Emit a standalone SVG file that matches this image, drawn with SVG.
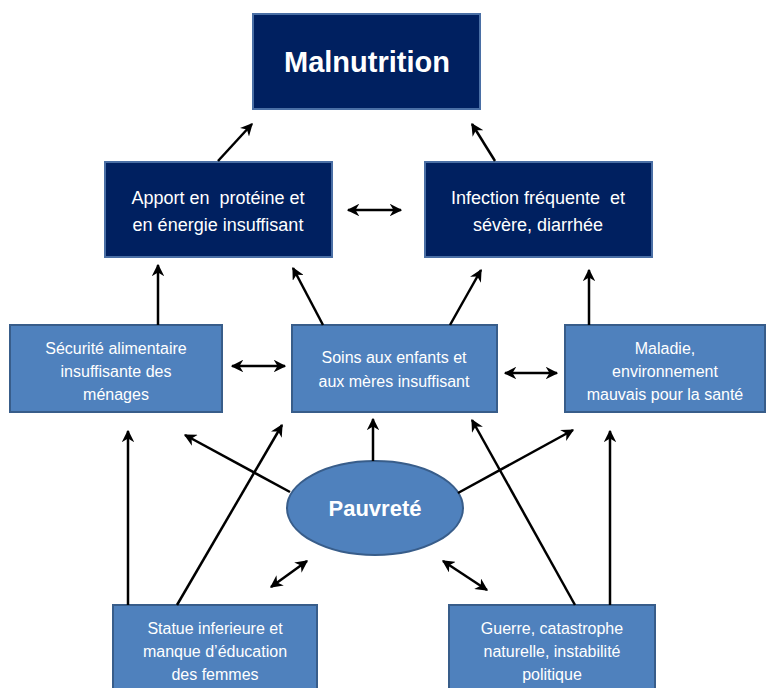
<svg xmlns="http://www.w3.org/2000/svg" width="767" height="688" viewBox="0 0 767 688">
<defs>
<marker id="ah" viewBox="0 0 10 10" refX="9" refY="5" markerWidth="5" markerHeight="5" markerUnits="strokeWidth" orient="auto-start-reverse">
<path d="M0,0 L10,5 L0,10 L3,5 z" fill="#000"/>
</marker>
</defs>
<style>
.dark{fill:#002060;stroke:#4a6fa5;stroke-width:2}
.mid{fill:#4f81bd;stroke:#385d8a;stroke-width:2}
.t{font-family:"Liberation Sans",Arial,sans-serif;fill:#fff;text-anchor:middle;font-size:16px}
.tl{font-size:18px}
.c line{stroke:#000;stroke-width:2.5;marker-end:url(#ah)}
.c line.d{marker-start:url(#ah)}
</style>
<rect width="767" height="688" fill="#fff"/>
<g id="malnutrition">
<rect class="dark" x="253" y="14" width="227" height="95"/>
<text class="t" x="367" y="72" style="font-size:29px" font-weight="bold">Malnutrition</text>
</g>
<g id="apport">
<rect class="dark" x="105" y="162" width="227" height="95"/>
<text class="t tl" x="218" y="204" xml:space="preserve">Apport en  protéine et</text>
<text class="t tl" x="218" y="231">en énergie insuffisant</text>
</g>
<g id="infection">
<rect class="dark" x="425" y="162" width="227" height="95"/>
<text class="t tl" x="538" y="204" xml:space="preserve">Infection fréquente  et</text>
<text class="t tl" x="538" y="231">sévère, diarrhée</text>
</g>
<g id="securite">
<rect class="mid" x="10" y="325" width="212" height="87"/>
<text class="t" x="116" y="354">Sécurité alimentaire</text>
<text class="t" x="116" y="377">insuffisante des</text>
<text class="t" x="116" y="400">ménages</text>
</g>
<g id="soins">
<rect class="mid" x="292" y="325" width="205" height="87"/>
<text class="t" x="394" y="363">Soins aux enfants et</text>
<text class="t" x="394" y="387">aux mères insuffisant</text>
</g>
<g id="maladie">
<rect class="mid" x="565" y="325" width="200" height="87"/>
<text class="t" x="665" y="354">Maladie,</text>
<text class="t" x="665" y="377">environnement</text>
<text class="t" x="665" y="400">mauvais pour la santé</text>
</g>
<g id="pauvrete">
<ellipse cx="375" cy="508" rx="88" ry="47" fill="#4f81bd" stroke="#385d8a" stroke-width="2"/>
<text class="t" x="375" y="516" style="font-size:22px" font-weight="bold">Pauvreté</text>
</g>
<g id="statue">
<rect class="mid" x="113" y="605" width="204" height="90"/>
<text class="t" x="215" y="634">Statue inferieure et</text>
<text class="t" x="215" y="657">manque d’éducation</text>
<text class="t" x="215" y="680">des femmes</text>
</g>
<g id="guerre">
<rect class="mid" x="449" y="605" width="206" height="90"/>
<text class="t" x="552" y="634">Guerre, catastrophe</text>
<text class="t" x="552" y="657">naturelle, instabilité</text>
<text class="t" x="552" y="680">politique</text>
</g>
<g id="connectors" class="c">
<line x1="218" y1="161" x2="252" y2="124"/>
<line x1="495" y1="161" x2="472" y2="124"/>
<line class="d" x1="348" y1="210" x2="401" y2="210"/>
<line x1="158" y1="325" x2="158" y2="265"/>
<line x1="323" y1="325" x2="293" y2="268"/>
<line x1="450" y1="325" x2="481" y2="270"/>
<line x1="589" y1="325" x2="589" y2="270"/>
<line class="d" x1="232" y1="366" x2="285" y2="366"/>
<line class="d" x1="505" y1="373" x2="557" y2="373"/>
<line x1="373" y1="461" x2="373" y2="419"/>
<line x1="290" y1="492" x2="185" y2="435"/>
<line x1="458" y1="493" x2="573" y2="430"/>
<line class="d" x1="271" y1="587" x2="307" y2="561"/>
<line class="d" x1="443" y1="561" x2="487" y2="590"/>
<line x1="128" y1="605" x2="128" y2="431"/>
<line x1="177" y1="605" x2="282" y2="425"/>
<line x1="575" y1="605" x2="472" y2="420"/>
<line x1="610" y1="605" x2="610" y2="431"/>
</g>
</svg>
